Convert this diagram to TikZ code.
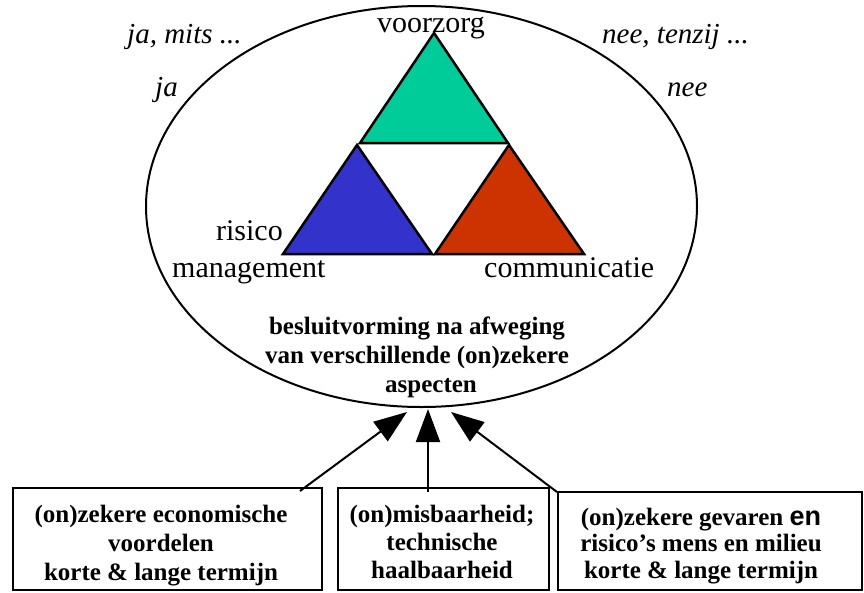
\documentclass[tikz,border=0pt]{standalone}
\usepackage{fontspec}
\setmainfont{Liberation Serif}
\newfontfamily\arialfont{Liberation Sans}
\usetikzlibrary{arrows.meta,shapes.geometric}
\tikzset{
  lbl/.style={font=\fontsize{30}{34}\selectfont, inner sep=0pt},
  itl/.style={font=\fontsize{29}{34}\selectfont\itshape, inner sep=0pt},
  bld/.style={font=\fontsize{25}{29}\selectfont\bfseries, inner sep=0pt, align=center},
  tri/.style={draw=black, line width=2.5pt, line join=miter},
  boxframe/.style={draw=black, line width=2pt, inner sep=0pt},
  arr/.style={line width=2pt, -{Triangle[length=33pt,width=24pt]}},
}
\definecolor{tgreen}{RGB}{0,204,153}
\definecolor{tblue}{RGB}{51,51,204}
\definecolor{tred}{RGB}{204,51,0}
\begin{document}
\begin{tikzpicture}[x=1pt,y=-1pt]
\useasboundingbox (0,0) rectangle (864,592);
% ellipse
\node[draw, ellipse, line width=2pt, inner sep=0pt, minimum width=551pt, minimum height=401pt] (ell) at (421.5,206.5) {};
% triangles
\filldraw[tri, fill=tgreen] (434,33) -- (360,143) -- (508,143) -- cycle;
\filldraw[tri, fill=tblue] (357,145) -- (283,254) -- (432,254) -- cycle;
\filldraw[tri, fill=tred] (509,145) -- (435,254) -- (584,254) -- cycle;
% labels
\node[lbl, anchor=base] (voorzorg) at (431,32) {voorzorg};
\node[lbl, anchor=base east] (risico) at (283,240) {risico};
\node[lbl, anchor=base west] (management) at (172,277) {management};
\node[lbl, anchor=base west] (communicatie) at (484,277) {communicatie};
\node[itl, anchor=base west] (jamits) at (127,43) {ja, mits ...};
\node[itl, anchor=base west] (ja) at (155,96) {ja};
\node[itl, anchor=base west] (neetenzij) at (602,43) {nee, tenzij ...};
\node[itl, anchor=base west] (nee) at (667,96) {nee};
\node[bld] (besluit) at (417,357) {besluitvorming na afweging\\van verschillende (on)zekere\\\hspace*{28pt}aspecten};
% boxes
\node[boxframe, minimum width=309pt, minimum height=102pt] (b1) at (167.5,539) {};
\node[boxframe, minimum width=211pt, minimum height=102pt] (b2) at (443.5,539) {};
\node[boxframe, minimum width=304pt, minimum height=98pt] (b3) at (710,541) {};
\node[bld] (t1) at (161,546) {(on)zekere economische\\voordelen\\korte \& lange termijn};
\node[bld, font=\fontsize{25}{28}\selectfont\bfseries] (t2) at (442,542) {(on)misbaarheid;\\technische\\haalbaarheid};
\node[bld, font=\fontsize{25}{26.5}\selectfont\bfseries] (t3) at (701,546) {(on)zekere gevaren {\arialfont\fontsize{27}{26}\selectfont en}\\risico’s mens en milieu\\korte \& lange termijn};
% arrows
\coordinate (s1) at (300,491);
\coordinate (e1) at (407,412);
\coordinate (s2) at (428,492);
\coordinate (e2) at (428,409);
\coordinate (s3) at (557,492);
\coordinate (e3) at (451,412);
\draw[arr] (s1) -- (e1);
\draw[arr] (s2) -- (e2);
\draw[arr] (s3) -- (e3);
\end{tikzpicture}
\end{document}
